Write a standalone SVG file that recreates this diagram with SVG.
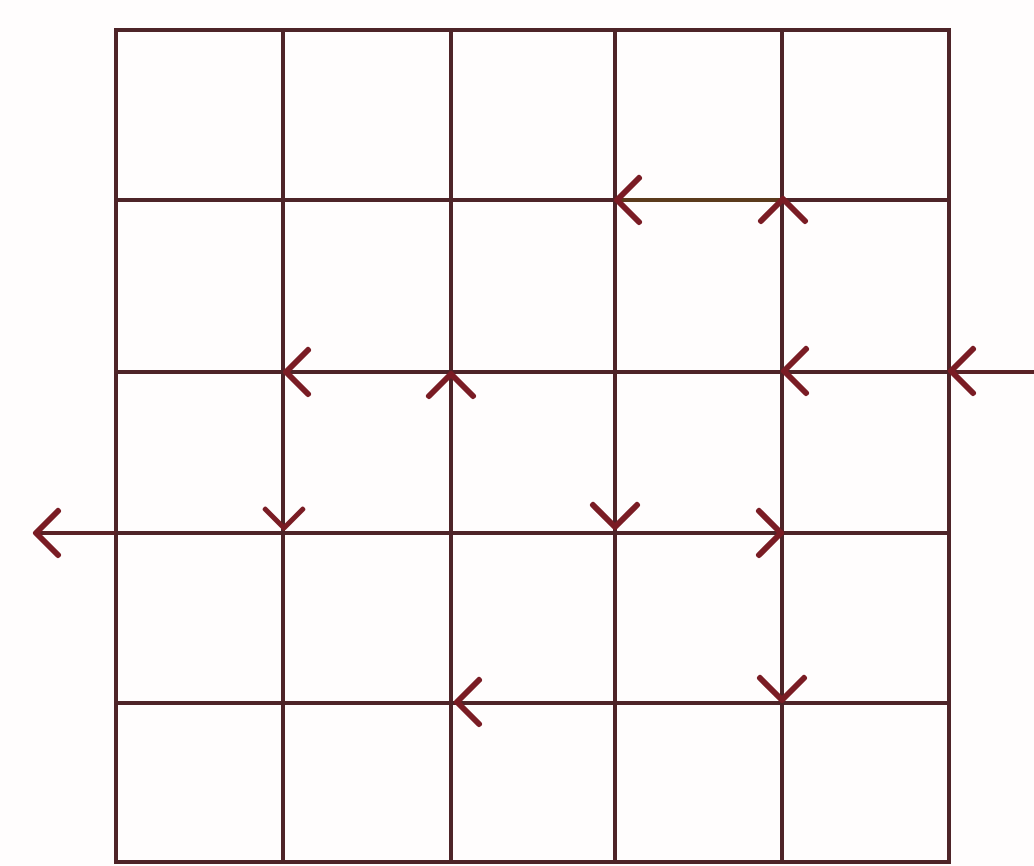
<svg xmlns="http://www.w3.org/2000/svg" xmlns:xlink="http://www.w3.org/1999/xlink" width="1034" height="866" viewBox="0 0 1034 866">
<style>
.grid{stroke:#4e2428;stroke-width:4;fill:none;stroke-linecap:square}
.conn{stroke:#5a2226;stroke-width:4;fill:none}
.chev{stroke:#7a1c24;stroke-width:6;fill:none;stroke-linecap:round;stroke-linejoin:round}
</style>
<defs>
<path id="ch" class="chev" d="M22,-22 L0,0 L22,22"/>
</defs>
<rect width="1034" height="866" fill="#fffdfd"/>
<g id="grid">
<rect class="grid" x="116" y="30" width="833" height="832"/>
<line class="grid" x1="283" y1="30" x2="283" y2="862"/>
<line class="grid" x1="451" y1="30" x2="451" y2="862"/>
<line class="grid" x1="615" y1="30" x2="615" y2="862"/>
<line class="grid" x1="782" y1="30" x2="782" y2="862"/>
<line class="grid" x1="116" y1="200" x2="949" y2="200"/>
<line class="grid" x1="116" y1="372" x2="949" y2="372"/>
<line class="grid" x1="116" y1="533" x2="949" y2="533"/>
<line class="grid" x1="116" y1="703" x2="949" y2="703"/>
</g>
<g id="connectors">
<line class="conn" x1="617" y1="200" x2="782" y2="200" style="stroke:#5b3a1c"/>
<line class="conn" x1="949" y1="372" x2="1034" y2="372"/>
<line class="conn" x1="36" y1="533" x2="116" y2="533"/>
<use xlink:href="#ch" transform="translate(617,200)"/>
<use xlink:href="#ch" transform="translate(783,199) rotate(90)"/>
<use xlink:href="#ch" transform="translate(286,372)"/>
<use xlink:href="#ch" transform="translate(451,374) rotate(90)"/>
<use xlink:href="#ch" transform="translate(784,371)"/>
<use xlink:href="#ch" transform="translate(951,371)"/>
<use xlink:href="#ch" transform="translate(36,533)"/>
<use xlink:href="#ch" transform="translate(284,528) rotate(-90) scale(0.85)"/>
<use xlink:href="#ch" transform="translate(615,527) rotate(-90)"/>
<use xlink:href="#ch" transform="translate(781,533) rotate(180)"/>
<use xlink:href="#ch" transform="translate(457,702)"/>
<use xlink:href="#ch" transform="translate(782,700) rotate(-90)"/>
</g>
</svg>
